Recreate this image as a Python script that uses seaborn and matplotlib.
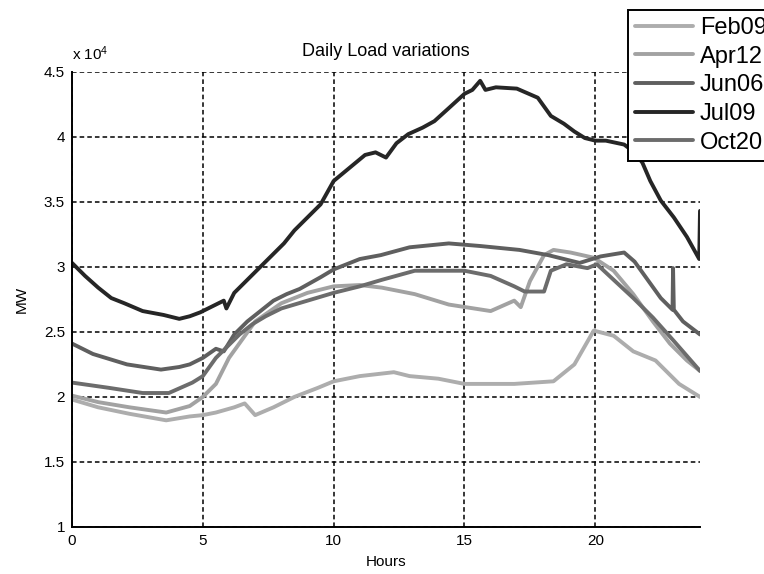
import matplotlib
matplotlib.use("Agg")
import matplotlib.pyplot as plt
import pandas as pd
import seaborn as sns

# ---- data (values in units of 10^4 MW) ----
days = ["Feb09", "Apr12", "Jun06", "Jul09", "Oct20"]

feb09_hours = [0, 1, 2.2, 3.6, 4.5, 5, 5.5, 6.2, 6.6, 7.0, 7.7, 8.5, 9.4, 10, 11, 12.3, 12.9,
               14, 15, 16.9, 18.4, 19.2, 19.94, 20.7, 21.45, 22.3, 23.2, 24]
feb09_load = [1.98, 1.92, 1.87, 1.82, 1.85, 1.86, 1.88, 1.92, 1.95, 1.86, 1.92, 2.0, 2.07, 2.12,
              2.16, 2.19, 2.16, 2.14, 2.10, 2.10, 2.12, 2.25, 2.51, 2.47, 2.35, 2.28, 2.10, 2.0]

apr12_hours = [0, 1, 2.2, 3.6, 4.5, 5, 5.5, 6, 7, 8, 9, 10, 11, 11.84, 13.1, 14.4, 16, 16.9,
               17.15, 17.5, 18.04, 18.4, 19.05, 19.94, 20.7, 21.45, 22.2, 22.85, 23.5, 24]
apr12_load = [2.01, 1.96, 1.92, 1.88, 1.93, 2.0, 2.1, 2.3, 2.58, 2.72, 2.80, 2.85, 2.86, 2.84,
              2.79, 2.71, 2.66, 2.74, 2.69, 2.89, 3.09, 3.13, 3.11, 3.07, 2.97, 2.79, 2.58,
              2.41, 2.28, 2.20]

jun06_hours = [0, 0.8, 2.1, 3.4, 4.1, 4.5, 5.0, 5.5, 5.8, 6.2, 6.7, 7.2, 7.7, 8.2, 8.7, 9.5, 10,
               11, 11.8, 12.9, 14.4, 15.6, 17.1, 18.2, 19.4, 20.2, 21.1, 21.5, 22.0, 22.5,
               22.95, 22.97, 23.0, 23.35, 24]
jun06_load = [2.41, 2.33, 2.25, 2.21, 2.23, 2.25, 2.30, 2.37, 2.35, 2.48, 2.58, 2.66, 2.74, 2.79,
              2.83, 2.92, 2.98, 3.06, 3.09, 3.15, 3.18, 3.16, 3.13, 3.09, 3.03, 3.08, 3.11,
              3.04, 2.90, 2.76, 2.67, 2.99, 2.67, 2.58, 2.48]

jul09_hours = [0, 0.5, 1, 1.5, 2, 2.7, 3.5, 4.1, 4.5, 4.9, 5.4, 5.8, 5.9, 6.2, 6.7, 7.2, 7.7,
               8.1, 8.5, 9.0, 9.5, 10, 10.6, 11.2, 11.6, 12.0, 12.4, 12.85, 13.4, 13.85, 14.4,
               15, 15.3, 15.6, 15.8, 16.2, 17, 17.8, 18.3, 18.8, 19.2, 19.6, 20, 20.4, 21.1,
               21.5, 21.8, 22.1, 22.5, 23.0, 23.5, 23.97, 24.0]
jul09_load = [3.03, 2.93, 2.84, 2.76, 2.72, 2.66, 2.63, 2.60, 2.62, 2.65, 2.70, 2.74, 2.68, 2.80,
              2.90, 3.00, 3.10, 3.18, 3.28, 3.38, 3.48, 3.66, 3.76, 3.86, 3.88, 3.84, 3.95,
              4.02, 4.07, 4.12, 4.22, 4.33, 4.36, 4.43, 4.36, 4.38, 4.37, 4.30, 4.16, 4.10,
              4.04, 3.99, 3.97, 3.97, 3.94, 3.88, 3.80, 3.66, 3.51, 3.38, 3.23, 3.06, 3.43]

oct20_hours = [0, 1.4, 2.7, 3.7, 4.6, 5.0, 5.5, 5.9, 6.4, 6.9, 7.4, 8, 9, 10, 11, 11.84, 13.1,
               15, 16, 16.9, 17.3, 18.04, 18.3, 18.9, 19.7, 20.06, 20.7, 21.45, 22.2, 23, 24]
oct20_load = [2.11, 2.07, 2.03, 2.03, 2.11, 2.16, 2.30, 2.38, 2.48, 2.56, 2.62, 2.68, 2.74, 2.80,
              2.85, 2.90, 2.97, 2.97, 2.93, 2.85, 2.81, 2.81, 2.97, 3.02, 2.99, 3.02, 2.90,
              2.76, 2.61, 2.43, 2.20]

xticks = [0, 5, 10, 15, 20]
yticks = [1, 1.5, 2, 2.5, 3, 3.5, 4, 4.5]
colors = {"Feb09": "#adadad", "Apr12": "#a2a2a2", "Jun06": "#5f5f5f",
          "Jul09": "#262626", "Oct20": "#6c6c6c"}

hours_by_day = {"Feb09": feb09_hours, "Apr12": apr12_hours, "Jun06": jun06_hours,
                "Jul09": jul09_hours, "Oct20": oct20_hours}
load_by_day = {"Feb09": feb09_load, "Apr12": apr12_load, "Jun06": jun06_load,
               "Jul09": jul09_load, "Oct20": oct20_load}

rows = []
for d in days:
    for h, v in zip(hours_by_day[d], load_by_day[d]):
        rows.append({"Day": d, "Hours": h, "MW": v})
df = pd.DataFrame(rows)

# ---- style ----
sns.set_theme(style="white")
plt.rcParams["font.family"] = ["Liberation Sans", "DejaVu Sans"]
plt.rcParams["mathtext.default"] = "regular"
plt.rcParams["text.color"] = "black"

fig = plt.figure(figsize=(7.64, 5.74), dpi=100)
W, H = 764, 574
L, R, T, B = 72, 700, 71.7, 527
ax = fig.add_axes([L / W, 1 - B / H, (R - L) / W, (B - T) / H])

sns.lineplot(data=df, x="Hours", y="MW", hue="Day", hue_order=days, palette=colors,
             units="Day", estimator=None, sort=False, linewidth=2.8, ax=ax, legend=False)

ax.set_xlim(0, 24)
ax.set_ylim(1, 4.5)
ax.set_xticks(xticks)
ax.set_yticks(yticks)
ax.set_xticklabels([str(t) for t in xticks])
ax.set_yticklabels([f"{t:g}" for t in yticks])
ax.tick_params(length=0, labelsize=11, colors="black")
ax.tick_params(axis="x", pad=5)
ax.tick_params(axis="y", pad=5)

ax.grid(True, color="black", linestyle=(0, (3.0, 2.0)), linewidth=1.1)
ax.set_axisbelow(True)
for s in ["top", "right"]:
    ax.spines[s].set_visible(False)
for s in ["left", "bottom"]:
    ax.spines[s].set_color("black")
    ax.spines[s].set_linewidth(1.4)

ax.set_xlabel("Hours", fontsize=11, color="black", labelpad=5)
ax.set_ylabel("MW", fontsize=11, color="black", labelpad=11)
ax.set_title("Daily Load variations", fontsize=13, color="black", pad=11)
fig.text(L / W, 1 - 60 / H, "x 10$^{4}$", fontsize=11, ha="left", va="baseline",
         color="black")

handles = ax.get_lines()[:len(days)]
leg = ax.legend(handles, days, loc="upper left", bbox_to_anchor=(628 / W, 1 - 10 / H),
                bbox_transform=fig.transFigure, borderaxespad=0, fontsize=17,
                frameon=True, fancybox=False, shadow=False, handlelength=2.45,
                handletextpad=0.3, labelspacing=0.28, borderpad=0.3)
for t in leg.get_texts():
    t.set_color("black")
leg.get_frame().set_edgecolor("black")
leg.get_frame().set_linewidth(1.4)
leg.get_frame().set_facecolor("white")
leg.get_frame().set_alpha(1)

fig.savefig("out.png", dpi=100)
